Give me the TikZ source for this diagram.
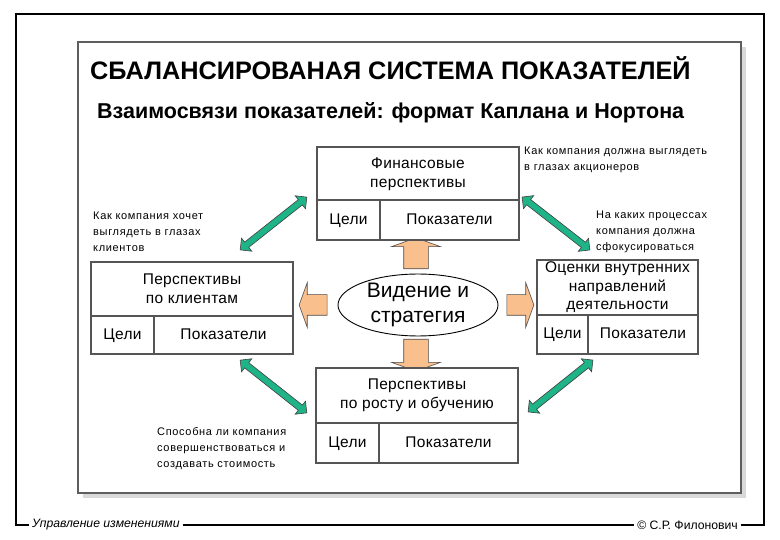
\documentclass[tikz,border=0pt]{standalone}
\usepackage{fontspec}
\setmainfont{Liberation Sans}
\newfontfamily\annfont[LetterSpace=6]{Liberation Sans}
\newfontfamily\cellfont[LetterSpace=2]{Liberation Sans}
\usetikzlibrary{shapes.geometric,shapes.arrows,shadows}
\definecolor{grn}{HTML}{1FB487}
\definecolor{org}{HTML}{F9C08E}
\definecolor{frm}{HTML}{5E5E5E}
\definecolor{boxln}{HTML}{555555}
\begin{document}
\begin{tikzpicture}[x=1pt,y=-1pt,
  cell/.style={draw=boxln, line width=1.1pt, fill=white, inner sep=0pt, align=center,
    font=\cellfont\fontsize{15.5}{19}\selectfont},
  lo/.style={text height=9pt, text depth=0pt},
  ann/.style={anchor=north west, inner sep=0pt, align=left,
    font=\annfont\fontsize{11}{16}\selectfont},
  garrow/.style={double arrow, draw=black!75, fill=grn, line width=0.6pt,
    minimum height=#1, double arrow head extend=5pt,
    inner xsep=0pt, inner ysep=3pt, double arrow head indent=0pt, sloped},
  oarrow/.style={single arrow, draw=black!70, fill=org, line width=0.6pt,
    inner xsep=0pt, inner ysep=#1, single arrow head extend=12pt,
    single arrow tip angle=140, sloped, allow upside down},
  foot/.style={fill=white, inner sep=3pt, font=\fontsize{12.2}{14}\selectfont}]
\useasboundingbox (0,0) rectangle (780,540);

% outer frame
\draw[line width=2pt] (16,525) -- (16,14) -- (764,14) -- (764,525) -- cycle;
\node[foot, anchor=west] (footl) at (29,525) {\itshape Управление изменениями};
\node[foot, anchor=east] (footr) at (741,525) {© С.Р. Филонович};

% slide frame
\node[draw=frm, line width=2.5pt, fill=white, minimum width=663pt, minimum height=451pt,
  drop shadow={shadow xshift=5pt, shadow yshift=-5pt, fill=black!25, opacity=0.6}]
  (slide) at (409.5,267.5) {};

% titles
\node[anchor=west, inner sep=0pt, font=\bfseries\fontsize{25.3}{30}\selectfont] (title)
  at (90,68) {СБАЛАНСИРОВАНАЯ СИСТЕМА ПОКАЗАТЕЛЕЙ};
\node[anchor=west, inner sep=0pt, font=\bfseries\fontsize{21.5}{26}\selectfont] (subtitle)
  at (97,113) {Взаимосвязи показателей: формат Каплана и Нортона};

% ellipse
\node[ellipse, draw=black, line width=0.9pt, fill=white, minimum width=160pt,
  minimum height=60pt, inner sep=0pt, align=center, font=\fontsize{21}{25}\selectfont]
  (vis) at (418,305) {Видение и\\стратегия};

% orange block arrows (drawn before boxes so the tips tuck under them)
\coordinate (ou1) at (416,271); \coordinate (ou2) at (416,240);
\coordinate (od1) at (416,337); \coordinate (od2) at (416,369);
\coordinate (ol1) at (329,305); \coordinate (ol2) at (301,305);
\coordinate (or1) at (505,305); \coordinate (or2) at (532,305);
\path (ou1) -- node[oarrow=12pt, minimum height=31pt]{} (ou2);
\path (od1) -- node[oarrow=12pt, minimum height=32pt]{} (od2);
\path (ol1) -- node[oarrow=10pt, minimum height=28pt]{} (ol2);
\path (or1) -- node[oarrow=10pt, minimum height=27pt]{} (or2);

% financial
\node[cell, minimum width=202pt, minimum height=54pt] (fin) at (418,174) {Финансовые\\перспективы};
\node[cell, lo, minimum width=63pt, minimum height=40pt] (fing) at (348.5,220) {Цели};
\node[cell, lo, minimum width=139pt, minimum height=40pt] (fini) at (449.5,220) {Показатели};

% customer
\node[cell, minimum width=202pt, minimum height=54pt] (cus) at (192,289) {Перспективы\\по клиентам};
\node[cell, lo, minimum width=63pt, minimum height=38pt] (cusg) at (122.5,335) {Цели};
\node[cell, lo, minimum width=139pt, minimum height=38pt] (cusi) at (223.5,335) {Показатели};

% internal
\node[cell, minimum width=161pt, minimum height=55pt, font=\cellfont\fontsize{15.5}{18.5}\selectfont] (int) at (617.5,287.5) {Оценки внутренних\\направлений\\деятельности};
\node[cell, lo, minimum width=51pt, minimum height=39pt] (intg) at (562.5,334.5) {Цели};
\node[cell, lo, minimum width=110pt, minimum height=39pt] (inti) at (643,334.5) {Показатели};

% learning
\node[cell, minimum width=202pt, minimum height=55pt] (lrn) at (417,395.5) {Перспективы\\по росту и обучению};
\node[cell, lo, minimum width=63pt, minimum height=40pt] (lrng) at (347.5,443) {Цели};
\node[cell, lo, minimum width=139pt, minimum height=40pt] (lrni) at (448.5,443) {Показатели};

% green double arrows
\coordinate (g1a) at (240,250); \coordinate (g1b) at (307,197);
\coordinate (g2a) at (522,197); \coordinate (g2b) at (590,250);
\coordinate (g3a) at (240,360); \coordinate (g3b) at (307,413);
\coordinate (g4a) at (528,412); \coordinate (g4b) at (593,360);
\path (g1a) -- node[garrow=85pt]{} (g1b);
\path (g2a) -- node[garrow=86pt]{} (g2b);
\path (g3a) -- node[garrow=85pt]{} (g3b);
\path (g4a) -- node[garrow=83pt]{} (g4b);

% annotations
\node[ann] (a1) at (524,147) {Как компания должна выглядеть\\в глазах акционеров};
\node[ann] (a2) at (596,211) {На каких процессах\\компания должна\\сфокусироваться};
\node[ann] (a3) at (93,212) {Как компания хочет\\выглядеть в глазах\\клиентов};
\node[ann] (a4) at (157,427) {Способна ли компания\\совершенствоваться и\\создавать стоимость};
\end{tikzpicture}
\end{document}
